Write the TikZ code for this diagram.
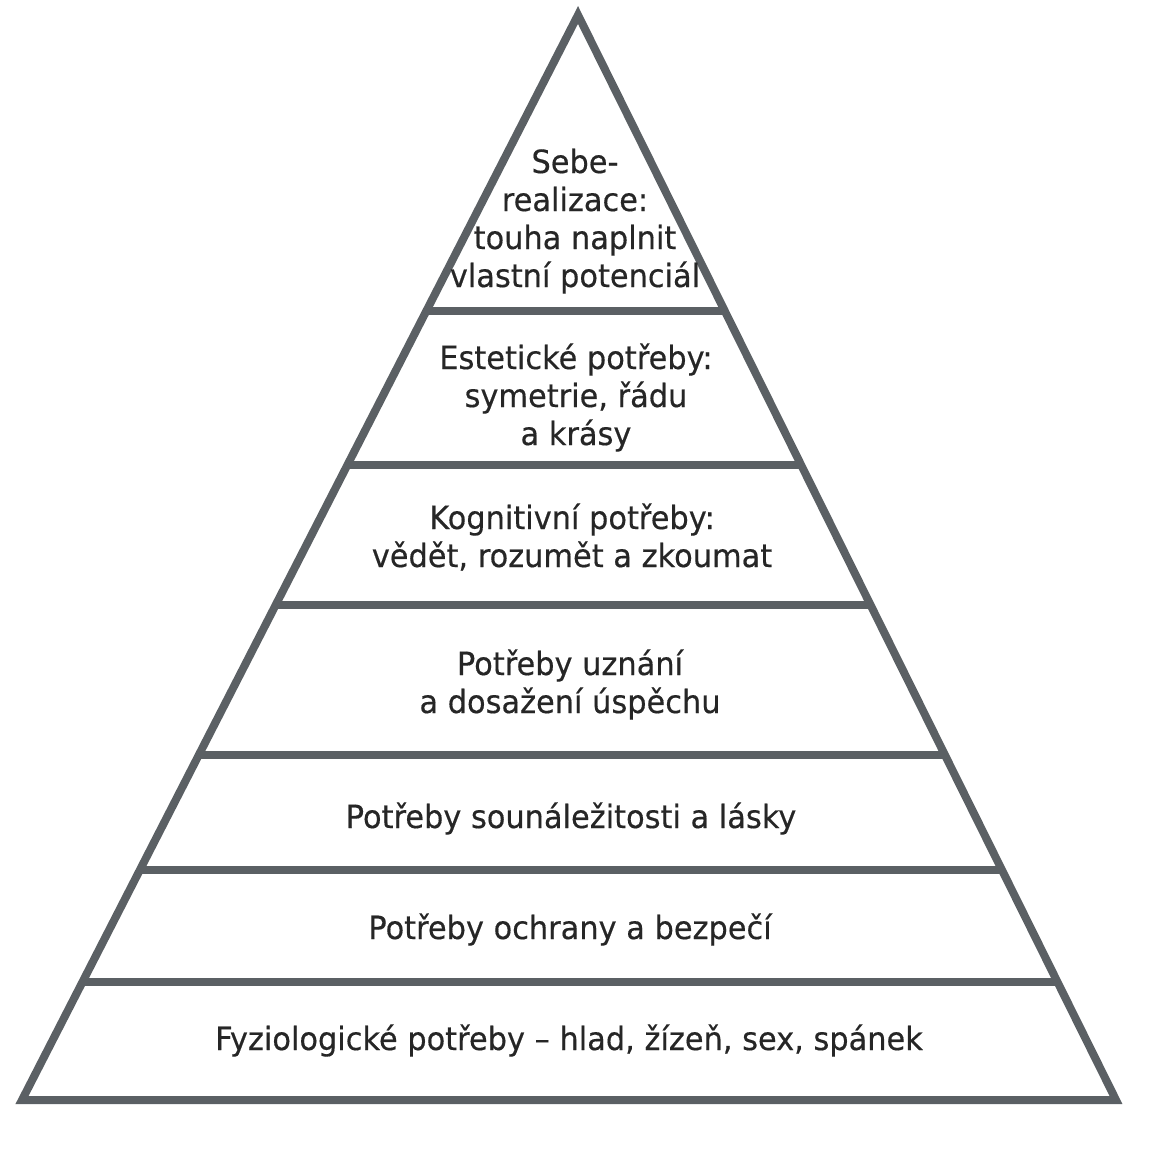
\documentclass[tikz,border=0pt]{standalone}
\usepackage{fontspec}
\setmainfont[FakeStretch=0.95,FakeBold=0.4]{DejaVu Sans}
\usetikzlibrary{calc}
\definecolor{edge}{HTML}{5B6064}
\definecolor{ink}{HTML}{262626}
\begin{document}
\begin{tikzpicture}[x=1pt,y=-1pt,
  level/.style={line width=8pt,draw=edge},
  label/.style={anchor=base,align=center,text=ink,inner sep=0pt,
    font=\fontsize{32}{38}\selectfont}]
\useasboundingbox (0,0) rectangle (1153,1151);
\coordinate (apex) at (578,15);
\coordinate (bl) at (22,1100);
\coordinate (br) at (1116,1100);
% horizontal dividers
\foreach \yy/\nm in {311/l1,465/l2,605/l3,755/l4,870/l5,982/l6}{
  \pgfmathsetmacro{\t}{(\yy-15)/1085}
  \coordinate (\nm a) at ($(apex)!\t!(bl)$);
  \coordinate (\nm b) at ($(apex)!\t!(br)$);
  \draw[level,line cap=butt] (\nm a) -- (\nm b);
}
\draw[level,line join=miter] (apex) -- (bl) -- (br) -- cycle;
% labels (anchor = baseline of the last line)
\node[label] (t1) at (575,287) {Sebe-\\realizace:\\touha naplnit\\vlastní potenciál};
\node[label] (t2) at (576,445) {Estetické potřeby:\\symetrie, řádu\\a krásy};
\node[label] (t3) at (572,567) {Kognitivní potřeby:\\vědět, rozumět a zkoumat};
\node[label] (t4) at (570,713) {Potřeby uznání\\a dosažení úspěchu};
\node[label] (t5) at (571,828) {Potřeby sounáležitosti a lásky};
\node[label] (t6) at (570,939) {Potřeby ochrany a bezpečí};
\node[label] (t7) at (569,1050) {Fyziologické potřeby – hlad, žízeň, sex, spánek};
\end{tikzpicture}
\end{document}
